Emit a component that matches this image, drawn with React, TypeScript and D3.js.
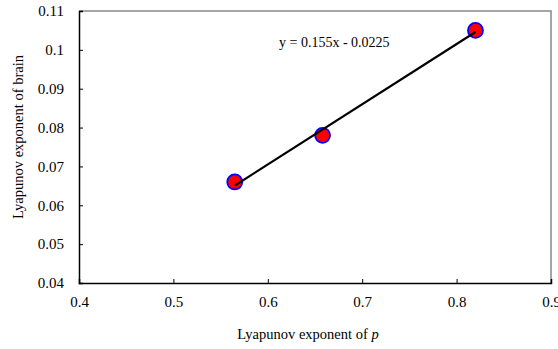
import React, { useEffect, useRef } from "react";
import * as d3 from "d3";

const pValues = [0.565, 0.658, 0.82];
const brainValues = [0.066, 0.078, 0.105];
const xTicks = [0.4, 0.5, 0.6, 0.7, 0.8, 0.9];
const yTicks = [0.04, 0.05, 0.06, 0.07, 0.08, 0.09, 0.1, 0.11];
const slope = 0.155;
const intercept = -0.0225;

const W = 558;
const H = 349;
const margin = { left: 79, right: 7, top: 11, bottom: 66 };
const FONT = "'Liberation Serif', 'Times New Roman', Times, serif";

const App = () => {
  const svgRef = useRef<SVGSVGElement>(null);

  useEffect(() => {
    const svg = d3.select(svgRef.current);
    svg.selectAll("*").remove();

    const x = d3.scaleLinear().domain([0.4, 0.9]).range([margin.left, W - margin.right]);
    const y = d3.scaleLinear().domain([0.04, 0.11]).range([H - margin.bottom, margin.top]);

    // gray frame on top and right
    svg.append("path")
      .attr("d", `M${x(0.4)},${y(0.11)}H${x(0.9)}V${y(0.04)}`)
      .attr("fill", "none")
      .attr("stroke", "#888")
      .attr("stroke-width", 1.5);

    const xAxis = svg.append("g")
      .attr("transform", `translate(0,${y(0.04)})`)
      .call(d3.axisBottom(x).tickValues(xTicks).tickSize(-4).tickPadding(13).tickFormat(d3.format("")));
    const yAxis = svg.append("g")
      .attr("transform", `translate(${x(0.4)},0)`)
      .call(d3.axisLeft(y).tickValues(yTicks).tickSize(-4).tickPadding(15).tickFormat(d3.format("")));

    [xAxis, yAxis].forEach((g) => {
      g.style("font-family", FONT);
      g.select(".domain").attr("stroke", "#000").attr("stroke-width", 1.5);
      g.selectAll(".tick line").attr("stroke", "#000");
      g.selectAll(".tick text")
        .style("font-family", FONT)
        .style("font-size", "15px")
        .attr("fill", "#000");
    });

    const x0 = d3.min(pValues)!;
    const x1 = d3.max(pValues)!;

    svg.selectAll("circle.pt")
      .data(pValues)
      .join("circle")
      .attr("class", "pt")
      .attr("cx", (d) => x(d))
      .attr("cy", (d, i) => y(brainValues[i]))
      .attr("r", 7.5)
      .attr("fill", "#ff0000")
      .attr("stroke", "#0000ff")
      .attr("stroke-width", 1.8);

    // linear trendline over the markers
    svg.append("line")
      .attr("x1", x(x0))
      .attr("y1", y(slope * x0 + intercept))
      .attr("x2", x(x1))
      .attr("y2", y(slope * x1 + intercept))
      .attr("stroke", "#000")
      .attr("stroke-width", 2.2);

    svg.append("text")
      .attr("x", 279)
      .attr("y", 47)
      .style("font-family", FONT)
      .style("font-size", "14px")
      .text("y = 0.155x - 0.0225");

    const xt = svg.append("text")
      .attr("x", 308)
      .attr("y", 339)
      .attr("text-anchor", "middle")
      .style("font-family", FONT)
      .style("font-size", "14.5px");
    xt.append("tspan").text("Lyapunov exponent of ");
    xt.append("tspan").style("font-style", "italic").text("p");

    svg.append("text")
      .attr("transform", `translate(23,137) rotate(-90)`)
      .attr("text-anchor", "middle")
      .style("font-family", FONT)
      .style("font-size", "14.5px")
      .text("Lyapunov exponent of brain");
  }, []);

  return (
    <div style={{ position: "absolute", left: 0, top: 0 }}>
      <svg ref={svgRef} width={W} height={H} style={{ display: "block", background: "#fff" }} />
    </div>
  );
};

export default App;
